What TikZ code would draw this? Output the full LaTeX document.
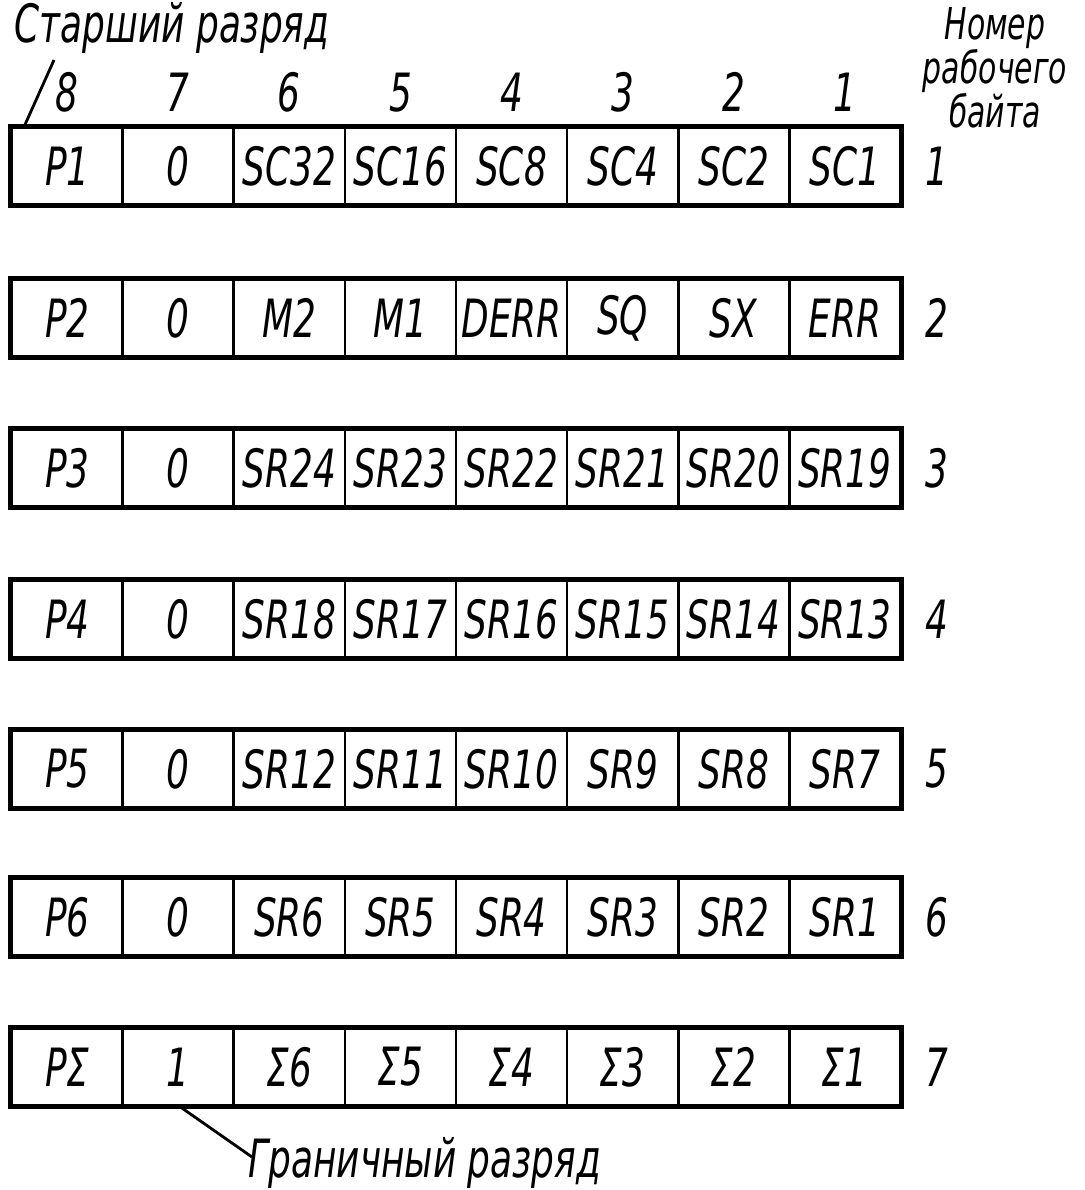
\documentclass[tikz,border=0pt]{standalone}
\usepackage{fontspec}
\setmainfont{DejaVu Sans}[FakeStretch=0.68]
\usetikzlibrary{matrix, calc, positioning}

\tikzset{
    bit/.style={draw, line width=0.8pt, minimum width=1.11cm, minimum height=0.77cm,
        inner sep=0pt, outer sep=0pt, anchor=center},
    word/.style={matrix of nodes, nodes={bit}, column sep=-0.8pt, draw, line width=1.1pt,
        inner sep=0pt, outer sep=0pt},
    num/.style={inner sep=0pt}
}

\begin{document}
\begin{tikzpicture}[x=0.01cm, y=-0.01cm, every node/.style={font=\fontsize{15}{16}\selectfont\itshape}]
    \useasboundingbox (0,0) rectangle (1085,1190);
    % Rabochie baity
    \matrix[word] (r1) at (456,166) {P1 & 0 & SC32 & SC16 & SC8 & SC4 & SC2 & SC1 \\};
    \matrix[word] (r2) at (456,318) {P2 & 0 & M2 & M1 & DERR & SQ & SX & ERR \\};
    \matrix[word] (r3) at (456,468) {P3 & 0 & SR24 & SR23 & SR22 & SR21 & SR20 & SR19 \\};
    \matrix[word] (r4) at (456,619) {P4 & 0 & SR18 & SR17 & SR16 & SR15 & SR14 & SR13 \\};
    \matrix[word] (r5) at (456,769) {P5 & 0 & SR12 & SR11 & SR10 & SR9 & SR8 & SR7 \\};
    \matrix[word] (r6) at (456,917) {P6 & 0 & SR6 & SR5 & SR4 & SR3 & SR2 & SR1 \\};
    \matrix[word] (r7) at (456,1067) {PΣ & 1 & Σ6 & Σ5 & Σ4 & Σ3 & Σ2 & Σ1 \\};
    % Nomera razryadov i baitov
    \foreach \c in {1,...,8}
        \node[num, above=0.15cm of r1-1-\c] (h\c) {\the\numexpr9-\c\relax};
    \foreach \r in {1,...,7}
        \node[num, right=0.25cm of r\r-1-8] (n\r) {\r};
    % Podpisi
    \node[num, anchor=west] (senior) at (14,28) {Старший разряд};
    \node[num, align=center, font=\fontsize{12.5}{12.5}\selectfont\itshape] (byteno) at (995,68) {Номер\\рабочего\\байта};
    \node[num, anchor=west] (edge) at (248,1163) {Граничный разряд};
    \coordinate (tipS) at (54,60);
    \draw[line width=0.8pt] ($(r1-1-1.north west)+(12,0)$) -- (tipS);
    \draw[line width=0.8pt] (r7-1-2.south) -- ($(edge.west)+(4,-6)$);
\end{tikzpicture}
\end{document}
